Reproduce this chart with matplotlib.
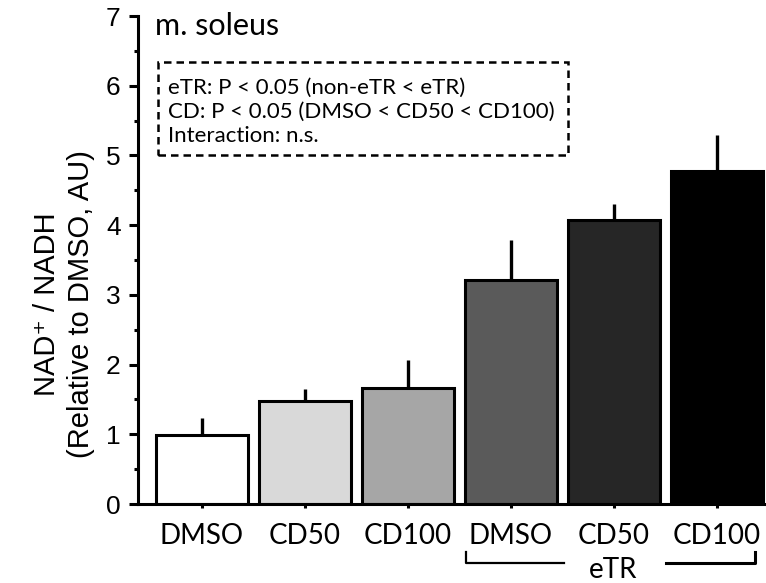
import numpy as np
import matplotlib.pyplot as plt
from matplotlib.patches import Rectangle
from matplotlib.transforms import blended_transform_factory
from matplotlib.ticker import MultipleLocator

groups = ["DMSO", "CD50", "CD100", "DMSO", "CD50", "CD100"]
means = [0.99, 1.48, 1.67, 3.22, 4.07, 4.77]
sems = [0.25, 0.17, 0.40, 0.57, 0.23, 0.53]
colors = ["#ffffff", "#d9d9d9", "#a6a6a6", "#5a5a5a", "#262626", "#000000"]
stats_lines = ["eTR: P < 0.05 (non-eTR < eTR)",
               "CD: P < 0.05 (DMSO < CD50 < CD100)",
               "Interaction: n.s."]

humanist = "Lato"
arial = ["Liberation Sans", "DejaVu Sans"]

fig = plt.figure(figsize=(7.66, 5.83), dpi=100)
ax = fig.add_axes([0.180, 0.1355, 0.820, 0.837])

x = np.arange(len(groups))
ax.bar(x, means, width=0.893, color=colors, edgecolor="black", linewidth=2.2, zorder=2)
ax.vlines(x, means, np.array(means) + np.array(sems), color="black", linewidth=2.4, zorder=1)

ax.set_xlim(-0.62, 5.48)
ax.set_ylim(0, 7)
ax.spines["top"].set_visible(False)
ax.spines["right"].set_visible(False)
ax.spines["left"].set_linewidth(2.2)
ax.spines["bottom"].set_linewidth(2.2)

ax.yaxis.set_major_locator(MultipleLocator(1))
ax.yaxis.set_minor_locator(MultipleLocator(0.5))
ax.tick_params(axis="y", which="major", direction="out", length=6.5, width=2.2, labelsize=19, pad=6)
ax.tick_params(axis="y", which="minor", direction="out", length=3, width=2.2)
ax.tick_params(axis="x", direction="out", length=3, width=2.2, labelsize=20, pad=11)
for lab in ax.get_yticklabels():
    lab.set_family(arial)

ax.set_xticks(x)
ax.set_xticklabels(groups, family=humanist)

ax.set_ylabel("NAD⁺ / NADH\n(Relative to DMSO, AU)", family=arial, fontsize=21, linespacing=1.3)
ax.yaxis.set_label_coords(-0.068, 0.41)

ax.text(0.027, 0.961, "m. soleus", transform=ax.transAxes, family=humanist, fontsize=22,
        va="baseline", ha="left")

box = Rectangle((0.032, 0.715), 0.653, 0.191, transform=ax.transAxes, facecolor="white",
                edgecolor="black", linestyle=(0, (3, 2)), linewidth=1.8, zorder=3)
ax.add_patch(box)
for i, line in enumerate(stats_lines):
    ax.text(0.048, 0.840 - i * 0.049, line, transform=ax.transAxes, family=humanist,
            fontsize=16, va="baseline", ha="left", zorder=4)

trans = blended_transform_factory(ax.transData, ax.transAxes)
ax.plot([2.57, 2.57, 3.52], [-0.098, -0.121, -0.121], color="black", linewidth=1.6,
        transform=trans, clip_on=False)
ax.plot([4.51, 5.37, 5.37], [-0.121, -0.121, -0.098], color="black", linewidth=2.2,
        transform=trans, clip_on=False)
ax.text(4.0, -0.152, "eTR", transform=trans, family=humanist, fontsize=20, ha="center", va="baseline")

fig.savefig("out.png", dpi=100)
